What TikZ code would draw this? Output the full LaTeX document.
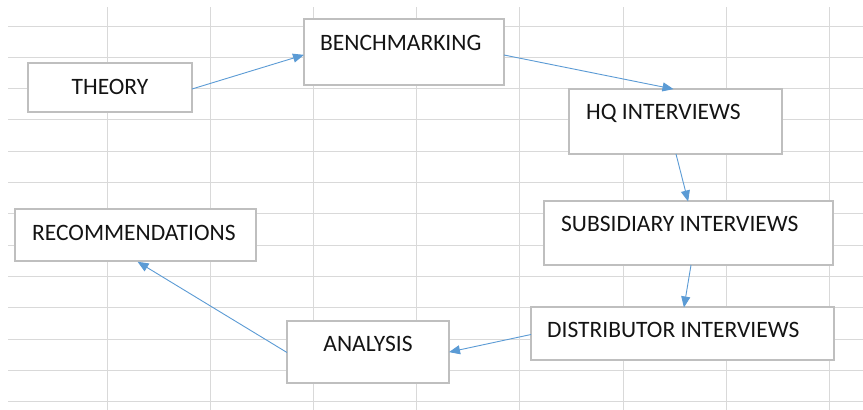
\documentclass[tikz,border=0pt]{standalone}
\usepackage{fontspec}
\setmainfont{Carlito}
\usetikzlibrary{arrows.meta}
\definecolor{gridc}{HTML}{D9D9D9}
\definecolor{boxc}{HTML}{BFBFBF}
\definecolor{arrc}{HTML}{5B9BD5}
\definecolor{txtc}{HTML}{141414}
\tikzset{
  box/.style={draw=boxc, line width=1.6pt, fill=white, rectangle, inner sep=0pt},
  txt/.style={inner sep=0pt, font=\fontsize{23.5}{27}\selectfont, text=txtc},
  conn/.style={draw=arrc, line width=0.9pt, -{Triangle[length=11pt,width=9pt]}, shorten >=-0.5pt},
}
\begin{document}
\begin{tikzpicture}[x=1pt,y=-1pt]
\useasboundingbox (0,0) rectangle (863,410);
\fill[white] (0,0) rectangle (863,410);
% grid
\foreach \yy in {26,57.3,88.6,119.9,151.2,182.5,213.8,245.1,276.4,307.7,339,370.3,401.6}
  \draw[gridc, line width=1pt] (8,\yy) -- (863,\yy);
\foreach \xx in {107,210.2,313.4,416.6,519.8,623,726.2,829.4}
  \draw[gridc, line width=1pt] (\xx,7) -- (\xx,410);
% boxes
\node[box, minimum width=164, minimum height=49] (theory) at (110,87.5) {};
\node[box, minimum width=200, minimum height=66] (bench) at (404,52) {};
\node[box, minimum width=213, minimum height=65] (hq) at (675.5,121.5) {};
\node[box, minimum width=289, minimum height=64] (sub) at (688.5,233) {};
\node[box, minimum width=303, minimum height=53] (dist) at (682.5,333.5) {};
\node[box, minimum width=162, minimum height=62] (ana) at (368,352) {};
\node[box, minimum width=241, minimum height=52] (reco) at (135.5,235) {};
% texts
\node[txt, anchor=base] at (110,94) {THEORY};
\node[txt, anchor=base west] at (320,50) {BENCHMARKING};
\node[txt, anchor=base west] at (586,119) {HQ INTERVIEWS};
\node[txt, anchor=base west] at (561,231) {SUBSIDIARY INTERVIEWS};
\node[txt, anchor=base west] at (547,337) {DISTRIBUTOR INTERVIEWS};
\node[txt, anchor=base] at (368,351) {ANALYSIS};
\node[txt, anchor=base west] at (32,240) {RECOMMENDATIONS};
% connector end points
\coordinate (t1) at (192,89);
\coordinate (b1) at (303.5,55);
\coordinate (b2) at (504,55);
\coordinate (h1) at (673,89);
\coordinate (h2) at (676,154);
\coordinate (s1) at (688,201);
\coordinate (s2) at (691,265);
\coordinate (d1) at (684,307);
\coordinate (d2) at (531,334.5);
\coordinate (a1) at (449.5,352);
\coordinate (a2) at (287,352.5);
\coordinate (r1) at (138,262);
% connectors
\draw[conn] (t1) -- (b1);
\draw[conn] (b2) -- (h1);
\draw[conn] (h2) -- (s1);
\draw[conn] (s2) -- (d1);
\draw[conn] (d2) -- (a1);
\draw[conn] (a2) -- (r1);
\end{tikzpicture}
\end{document}
